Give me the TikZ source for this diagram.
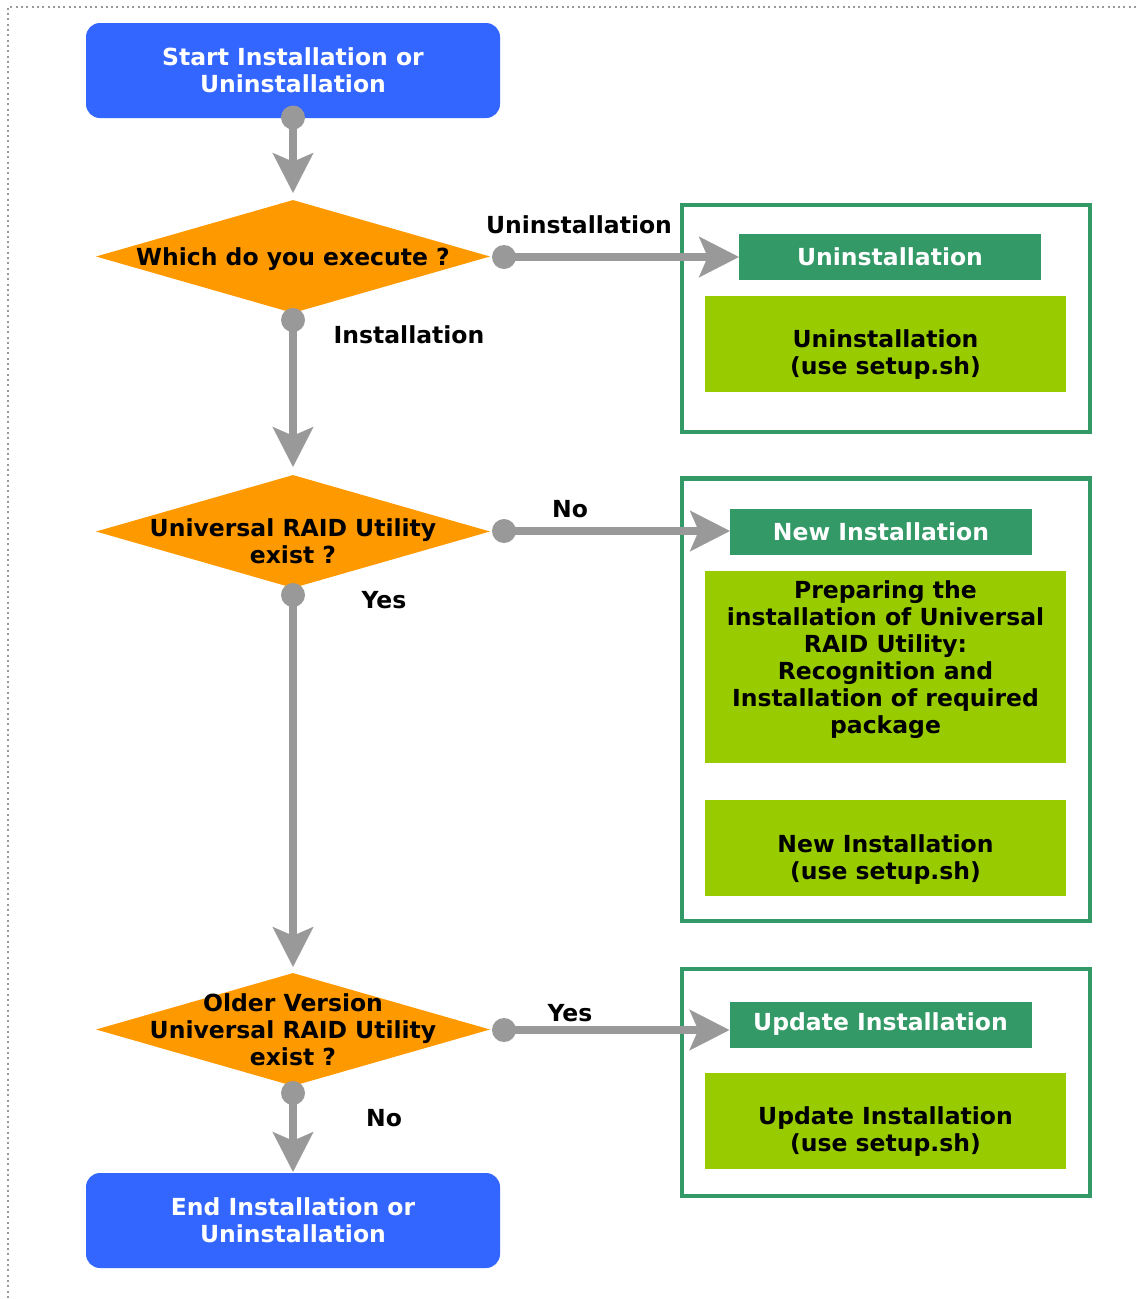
\documentclass[tikz,border=0pt]{standalone}
\usepackage{fontspec}
\setmainfont{DejaVu Sans}
\usetikzlibrary{shapes.geometric,arrows.meta}
\definecolor{termblue}{HTML}{3366FF}
\definecolor{decorange}{HTML}{FF9900}
\definecolor{grpgreen}{HTML}{339966}
\definecolor{boxgreen}{HTML}{99CC00}
\definecolor{linegray}{HTML}{999999}
\begin{document}
\begin{tikzpicture}[x=1pt,y=-1pt,
  every node/.style={font=\fontsize{23.5}{27}\selectfont\bfseries, align=center, inner sep=0pt},
  term/.style={fill=termblue, rounded corners=14pt, minimum width=414pt, minimum height=95pt, text=white},
  decision/.style={diamond, fill=decorange, minimum width=394pt, minimum height=113pt},
  group/.style={draw=grpgreen, line width=4.5pt, minimum width=408pt},
  titlebox/.style={fill=grpgreen, minimum width=302pt, minimum height=46pt, text=white},
  stepbox/.style={fill=boxgreen, minimum width=361pt},
  dot/.style={circle, fill=linegray, minimum size=24pt},
  conn/.style={draw=linegray, line width=7.5pt, -{Stealth[length=40pt,width=41pt,inset=9pt,line width=0.1pt]}},
  lbl/.style={text=black}
]
\useasboundingbox (0,0) rectangle (1136,1299);
\fill[white] (0,0) rectangle (1136,1299);
\draw[linegray, line width=2pt, dash pattern=on 2pt off 3.3pt] (1136,7) -- (8,7) -- (8,1299);

% terminals
\node[term] (start) at (293,70.5) {Start Installation or\\Uninstallation};
\node[term] (end) at (293,1220.5) {End Installation or\\Uninstallation};

% decisions
\node[decision] (d1) at (293,256.5) {};
\node[lbl] (d1t) at ([yshift=-3pt]d1.center) {Which do you execute ?};
\node[decision] (d2) at (293,531.5) {};
\node[lbl] (d2t) at ([yshift=-10pt]d2.center) {Universal RAID Utility\\exist ?};
\node[decision] (d3) at (293,1029.5) {};
\node[lbl] (d3t) at ([yshift=0pt]d3.center) {Older Version\\Universal RAID Utility\\exist ?};

% groups
\node[group, minimum height=226.8pt] (g1) at (885.75,318.4) {};
\node[titlebox] (t1) at (890,257) {Uninstallation};
\node[stepbox, minimum height=96pt] (b1) at (885.5,344) {};
\node[lbl] (b1t) at ([yshift=-11pt]b1.center) {Uninstallation\\(use setup.sh)};

\node[group, minimum height=442.3pt] (g2) at (885.75,699.6) {};
\node[titlebox] (t2) at (881,531.5) {New Installation};
\node[stepbox, minimum height=192pt] (b2) at (885.5,667) {};
\node[lbl] (b2t) at ([yshift=7pt]b2.center) {Preparing the\\installation of Universal\\RAID Utility:\\Recognition and\\Installation of required\\package};
\node[stepbox, minimum height=96pt] (b3) at (885.5,848) {};
\node[lbl] (b3t) at ([yshift=-12pt]b3.center) {New Installation\\(use setup.sh)};

\node[group, minimum height=226.6pt] (g3) at (885.75,1082.5) {};
\node[titlebox] (t3) at (880.5,1024.5) {Update Installation};
\node[stepbox, minimum height=96pt] (b4) at (885.5,1121) {};
\node[lbl] (b4t) at ([yshift=-11pt]b4.center) {Update Installation\\(use setup.sh)};

% connector start points
\coordinate (p1) at (293,117.5);
\coordinate (p2) at (504,257);
\coordinate (p3) at (293,320);
\coordinate (p4) at (504,531);
\coordinate (p5) at (293,595);
\coordinate (p6) at (504,1030);
\coordinate (p7) at (293,1093);

% connectors
\draw[conn, shorten >=7pt] (p1) -- (d1.north);
\draw[conn] (p2) -- (p2 -| t1.west);
\draw[conn, shorten >=8pt] (p3) -- (d2.north);
\draw[conn] (p4) -- (p4 -| t2.west);
\draw[conn, shorten >=6pt] (p5) -- (d3.north);
\draw[conn] (p6) -- (p6 -| t3.west);
\draw[conn, shorten >=1pt] (p7) -- (end.north);

% dots
\foreach \p in {p1,p2,p3,p4,p5,p6,p7} \node[dot] (dot\p) at (\p) {};

% labels
\node[lbl] (lu) at (579,225) {Uninstallation};
\node[lbl] (li) at (409,335) {Installation};
\node[lbl] (ln1) at (570,509) {No};
\node[lbl] (ly1) at (384,600) {Yes};
\node[lbl] (ly2) at (570,1013) {Yes};
\node[lbl] (ln2) at (384,1118) {No};
\end{tikzpicture}
\end{document}
